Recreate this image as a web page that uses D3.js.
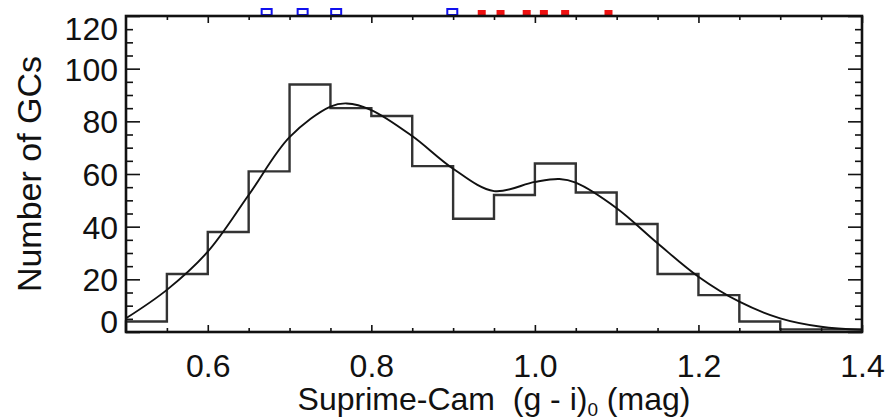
<!DOCTYPE html>
<html>
<head>
<meta charset="utf-8">
<script src="https://cdn.jsdelivr.net/npm/d3@7"></script>
<style>
	body { margin: 0; background: #fff; }
	text { font-family: "Liberation Sans", Arial, Helvetica, sans-serif; }
</style>
</head>
<body>
<script>
// histogram bins (left edges) and counts
var binEdges = [0.50, 0.55, 0.60, 0.65, 0.70, 0.75, 0.80, 0.85, 0.90, 0.95, 1.00, 1.05, 1.10, 1.15, 1.20, 1.25, 1.30, 1.35];
var binCounts = [4, 22, 38, 61, 94, 85, 82, 63, 43, 52, 64, 53, 41, 22, 14, 4, 1, 1];

// smoothed density curve
var curveX = [0.50, 0.55, 0.60, 0.65, 0.70, 0.75, 0.77, 0.80, 0.85, 0.90, 0.95, 1.00, 1.03, 1.05, 1.10, 1.15, 1.20, 1.25, 1.30, 1.35, 1.40];
var curveY = [5.2, 16, 30.5, 52, 74, 85.6, 86.8, 84.3, 74.4, 62, 53.5, 57, 58.1, 56.7, 47, 33.7, 21, 11.5, 5.2, 2, 0.8];

// clipped markers from the panel above
var blueMarks = [0.672, 0.716, 0.757, 0.899];
var redMarks = [0.935, 0.958, 0.990, 1.011, 1.037, 1.090];

var xMajor = [0.6, 0.8, 1.0, 1.2, 1.4];
var xMinor = [0.55, 0.65, 0.7, 0.75, 0.85, 0.9, 0.95, 1.05, 1.1, 1.15, 1.25, 1.3, 1.35];
var yMajor = [0, 20, 40, 60, 80, 100, 120];
var yMinor = [5, 10, 15, 25, 30, 35, 45, 50, 55, 65, 70, 75, 85, 90, 95, 105, 110, 115];

var width = 887;
var height = 419;
var marginLeft = 126;
var marginTop = 16;
var plotRight = 862;
var plotBottom = 332;

var svg = d3.select("body")
	.append("svg")
	.attr("width", width)
	.attr("height", height);

var x = d3.scaleLinear().domain([0.5, 1.4]).range([marginLeft, plotRight]);
var y = d3.scaleLinear().domain([0, 120]).range([plotBottom, marginTop]);

var fontSize = 32;

// markers poking in at the top
svg.append("g")
	.selectAll("rect")
	.data(blueMarks)
	.join("rect")
	.attr("x", (d) => x(d) - 5)
	.attr("y", 9)
	.attr("width", 10)
	.attr("height", 6)
	.style("fill", "none")
	.style("stroke", "#1010ee")
	.style("stroke-width", 2);

svg.append("g")
	.selectAll("rect")
	.data(redMarks)
	.join("rect")
	.attr("x", (d) => x(d) - 4)
	.attr("y", 10)
	.attr("width", 8)
	.attr("height", 5)
	.style("fill", "#ee1010");

// histogram
var histPts = [[0.5, 0]];
binEdges.forEach((e, i) => histPts.push([e, binCounts[i]]));
histPts.push([1.4, binCounts[binCounts.length - 1]]);

svg.append("path")
	.attr("d", d3.line()
		.x((d) => x(d[0]))
		.y((d) => y(d[1]))
		.curve(d3.curveStepAfter)(histPts))
	.style("fill", "none")
	.style("stroke", "#333")
	.style("stroke-width", 2.4);

// smooth curve
var curvePts = curveX.map((d, i) => [d, curveY[i]]);
svg.append("path")
	.attr("d", d3.line()
		.x((d) => x(d[0]))
		.y((d) => y(d[1]))
		.curve(d3.curveCatmullRom)(curvePts))
	.style("fill", "none")
	.style("stroke", "#111")
	.style("stroke-width", 1.9);

// axes, ticks on all four sides pointing inward
function styleAxis(g) {
	g.select(".domain").remove();
	g.selectAll("line").style("stroke", "#111").style("stroke-width", 1.6);
	g.selectAll("text")
		.style("font-size", fontSize + "px")
		.style("fill", "#111");
}

svg.append("g")
	.attr("transform", "translate(0," + plotBottom + ")")
	.call(d3.axisBottom(x).tickValues(xMajor).tickSize(-7).tickPadding(22).tickFormat(d3.format(".1f")))
	.call(styleAxis)
	.selectAll("text").attr("dy", "0.71em");

svg.append("g")
	.attr("transform", "translate(0," + plotBottom + ")")
	.call(d3.axisBottom(x).tickValues(xMinor).tickSize(-4).tickFormat(""))
	.call(styleAxis);

svg.append("g")
	.attr("transform", "translate(0," + marginTop + ")")
	.call(d3.axisTop(x).tickValues(xMajor).tickSize(-7).tickFormat(""))
	.call(styleAxis);

svg.append("g")
	.attr("transform", "translate(0," + marginTop + ")")
	.call(d3.axisTop(x).tickValues(xMinor).tickSize(-4).tickFormat(""))
	.call(styleAxis);

var yAxisG = svg.append("g")
	.attr("transform", "translate(" + marginLeft + ",0)")
	.call(d3.axisLeft(y).tickValues(yMajor).tickSize(-14).tickPadding(8))
	.call(styleAxis);

// end labels sit inside the frame
yAxisG.selectAll(".tick text")
	.attr("dy", (d) => d === 120 ? "0.72em" : d === 0 ? "0.0em" : "0.36em");

svg.append("g")
	.attr("transform", "translate(" + marginLeft + ",0)")
	.call(d3.axisLeft(y).tickValues(yMinor).tickSize(-7).tickFormat(""))
	.call(styleAxis);

svg.append("g")
	.attr("transform", "translate(" + plotRight + ",0)")
	.call(d3.axisRight(y).tickValues(yMajor).tickSize(-14).tickFormat(""))
	.call(styleAxis);

svg.append("g")
	.attr("transform", "translate(" + plotRight + ",0)")
	.call(d3.axisRight(y).tickValues(yMinor).tickSize(-7).tickFormat(""))
	.call(styleAxis);

// frame
svg.append("rect")
	.attr("x", marginLeft)
	.attr("y", marginTop)
	.attr("width", plotRight - marginLeft)
	.attr("height", plotBottom - marginTop)
	.style("fill", "none")
	.style("stroke", "#111")
	.style("stroke-width", 2.6);

// axis titles
var xt = svg.append("text")
	.attr("x", (marginLeft + plotRight) / 2)
	.attr("y", 410)
	.style("text-anchor", "middle")
	.style("font-size", fontSize + "px")
	.style("fill", "#111");
xt.append("tspan").text("Suprime-Cam\u00a0\u00a0(g - i)");
xt.append("tspan").attr("dy", 6).style("font-size", "19px").text("0");
xt.append("tspan").attr("dy", -6).text(" (mag)");

svg.append("text")
	.attr("transform", "translate(41," + (marginTop + plotBottom) / 2 + ") rotate(-90)")
	.style("text-anchor", "middle")
	.style("font-size", "34px")
	.style("fill", "#111")
	.text("Number of GCs");
</script>
</body>
</html>
